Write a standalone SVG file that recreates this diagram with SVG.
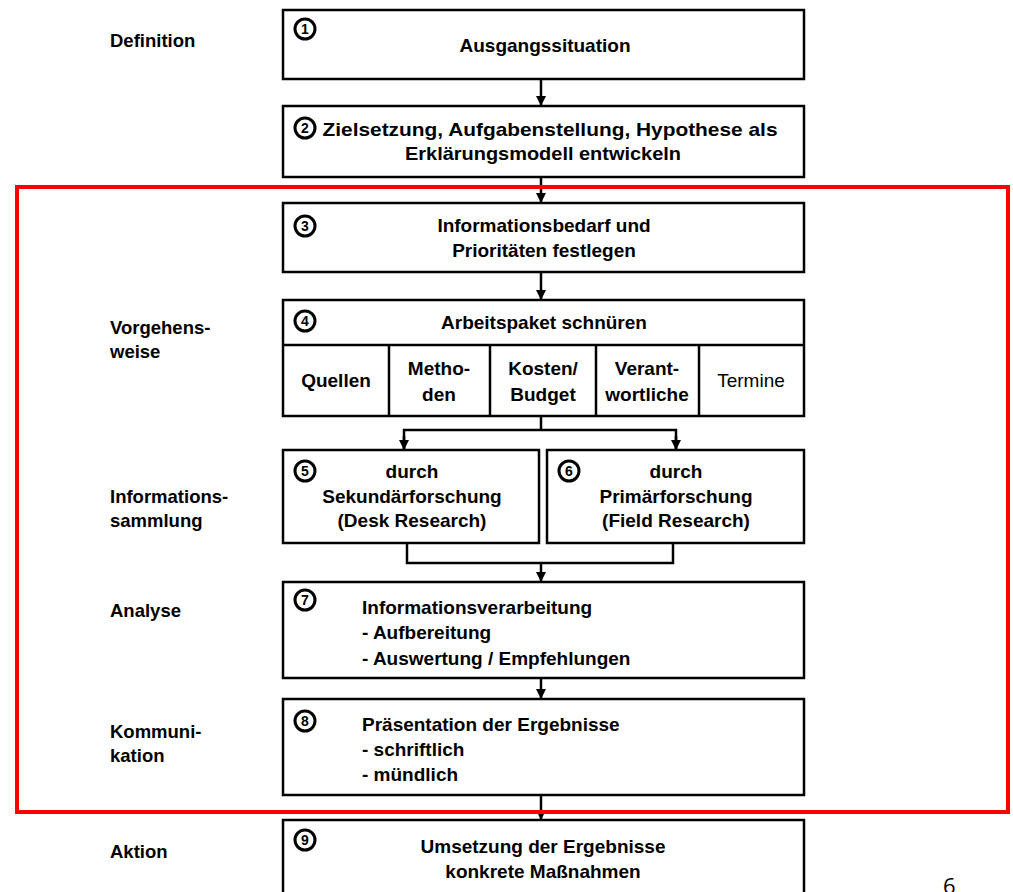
<svg xmlns="http://www.w3.org/2000/svg" width="1013" height="892" viewBox="0 0 1013 892">
<defs>
<style>
.box{fill:#fff;stroke:#000;stroke-width:2.5}
.sep{stroke:#000;stroke-width:2.5;fill:none}
.t{font-family:"Liberation Sans",Arial,sans-serif;font-weight:bold;font-size:19px;fill:#000}
.c{text-anchor:middle}
.lbl{font-family:"Liberation Sans",Arial,sans-serif;font-weight:bold;font-size:18.5px;fill:#000}
.num{fill:#fff;stroke:#000;stroke-width:3}
.nt{font-family:"Liberation Sans",Arial,sans-serif;font-weight:bold;font-size:14px;text-anchor:middle;fill:#000}
.con{stroke:#000;stroke-width:2.5;fill:none}
</style>
<marker id="ah" viewBox="0 0 10 10" refX="9" refY="5" markerWidth="4" markerHeight="4" orient="auto" markerUnits="strokeWidth">
<path d="M0,0 L10,5 L0,10 z" fill="#000"/>
</marker>
</defs>
<rect width="1013" height="892" fill="#fff"/>

<g id="labels">
<text class="lbl" x="110" y="47">Definition</text>
<text class="lbl" x="110" y="334">Vorgehens-</text>
<text class="lbl" x="110" y="358">weise</text>
<text class="lbl" x="110" y="503">Informations-</text>
<text class="lbl" x="110" y="527">sammlung</text>
<text class="lbl" x="110" y="617">Analyse</text>
<text class="lbl" x="110" y="738">Kommuni-</text>
<text class="lbl" x="110" y="762">kation</text>
<text class="lbl" x="110" y="858">Aktion</text>
</g>

<g id="connectors">
<line class="con" x1="541" y1="79" x2="541" y2="105" marker-end="url(#ah)"/>
<line class="con" x1="541" y1="177" x2="541" y2="202" marker-end="url(#ah)"/>
<line class="con" x1="541" y1="272" x2="541" y2="299" marker-end="url(#ah)"/>
<polyline class="con" points="541,416 541,430"/>
<polyline class="con" points="404,449 404,430 676,430 676,449"/>
<line class="con" x1="404" y1="436" x2="404" y2="449" marker-end="url(#ah)"/>
<line class="con" x1="676" y1="436" x2="676" y2="449" marker-end="url(#ah)"/>
<polyline class="con" points="407,543 407,563 673,563 673,543"/>
<line class="con" x1="541" y1="563" x2="541" y2="581" marker-end="url(#ah)"/>
<line class="con" x1="541" y1="678" x2="541" y2="698" marker-end="url(#ah)"/>
<line class="con" x1="541" y1="795" x2="541" y2="819" marker-end="url(#ah)"/>
</g>

<g id="n1">
<rect class="box" x="283" y="10" width="521" height="69"/>
<circle class="num" cx="305" cy="29" r="10"/><text class="nt" x="305" y="34">1</text>
<text class="t c" x="545" y="52">Ausgangssituation</text>
</g>

<g id="n2">
<rect class="box" x="283" y="106" width="521" height="71"/>
<circle class="num" cx="305" cy="128" r="10"/><text class="nt" x="305" y="133">2</text>
<text class="t c" x="550" y="136" textLength="455" lengthAdjust="spacingAndGlyphs">Zielsetzung, Aufgabenstellung, Hypothese als</text>
<text class="t c" x="543" y="160" textLength="276" lengthAdjust="spacingAndGlyphs">Erklärungsmodell entwickeln</text>
</g>

<g id="n3">
<rect class="box" x="283" y="203" width="521" height="69"/>
<circle class="num" cx="305" cy="226" r="10"/><text class="nt" x="305" y="231">3</text>
<text class="t c" x="544" y="232">Informationsbedarf und</text>
<text class="t c" x="544" y="257">Prioritäten festlegen</text>
</g>

<g id="n4">
<rect class="box" x="283" y="300" width="521" height="116"/>
<line class="sep" x1="283" y1="345" x2="804" y2="345"/>
<line class="sep" x1="389" y1="345" x2="389" y2="416"/>
<line class="sep" x1="490" y1="345" x2="490" y2="416"/>
<line class="sep" x1="596" y1="345" x2="596" y2="416"/>
<line class="sep" x1="699" y1="345" x2="699" y2="416"/>
<circle class="num" cx="305" cy="321" r="10"/><text class="nt" x="305" y="326">4</text>
<text class="t c" x="544" y="329">Arbeitspaket schnüren</text>
<text class="t c" x="336" y="387">Quellen</text>
<text class="t c" x="439" y="375">Metho-</text>
<text class="t c" x="439" y="401">den</text>
<text class="t c" x="543" y="375">Kosten/</text>
<text class="t c" x="543" y="401">Budget</text>
<text class="t c" x="647" y="375">Verant-</text>
<text class="t c" x="647" y="401">wortliche</text>
<text class="t c" x="751" y="387" style="font-weight:normal">Termine</text>
</g>

<g id="n5">
<rect class="box" x="283" y="450" width="256" height="93"/>
<circle class="num" cx="305" cy="471" r="10"/><text class="nt" x="305" y="476">5</text>
<text class="t c" x="412" y="478">durch</text>
<text class="t c" x="412" y="503">Sekundärforschung</text>
<text class="t c" x="412" y="527">(Desk Research)</text>
</g>

<g id="n6">
<rect class="box" x="547" y="450" width="257" height="93"/>
<circle class="num" cx="569" cy="471" r="10"/><text class="nt" x="569" y="476">6</text>
<text class="t c" x="676" y="478">durch</text>
<text class="t c" x="676" y="503">Primärforschung</text>
<text class="t c" x="676" y="527">(Field Research)</text>
</g>

<g id="n7">
<rect class="box" x="283" y="582" width="521" height="96"/>
<circle class="num" cx="305" cy="600" r="10"/><text class="nt" x="305" y="605">7</text>
<text class="t" x="362" y="614">Informationsverarbeitung</text>
<text class="t" x="362" y="639">- Aufbereitung</text>
<text class="t" x="362" y="665">- Auswertung / Empfehlungen</text>
</g>

<g id="n8">
<rect class="box" x="283" y="699" width="521" height="96"/>
<circle class="num" cx="305" cy="721" r="10"/><text class="nt" x="305" y="726">8</text>
<text class="t" x="362" y="731">Präsentation der Ergebnisse</text>
<text class="t" x="362" y="756">- schriftlich</text>
<text class="t" x="362" y="781">- mündlich</text>
</g>

<g id="n9">
<rect class="box" x="283" y="820" width="521" height="90"/>
<circle class="num" cx="305" cy="840" r="10"/><text class="nt" x="305" y="845">9</text>
<text class="t c" x="543" y="853">Umsetzung der Ergebnisse</text>
<text class="t c" x="543" y="878">konkrete Maßnahmen</text>
</g>

<g id="highlight">
<rect x="17" y="187" width="991" height="625" fill="none" stroke="#ff0000" stroke-width="4"/>
</g>

<text x="943" y="894" style="font-family:'Open Sans','Liberation Sans',sans-serif;font-size:22px;fill:#000">6</text>
</svg>
